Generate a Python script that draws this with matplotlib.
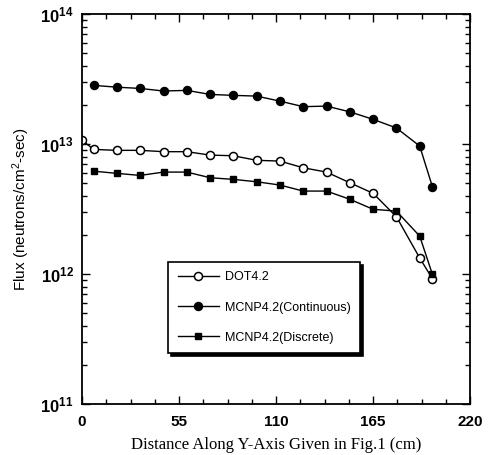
import matplotlib
matplotlib.use("Agg")
import matplotlib.pyplot as plt
from matplotlib.ticker import FixedLocator, FixedFormatter, LogLocator, NullFormatter, MultipleLocator

plt.rcParams['font.family'] = ['Liberation Sans', 'DejaVu Sans']
plt.rcParams['mathtext.default'] = 'regular'

# Data (distance in cm, flux in neutrons/cm^2-sec)
x_dot = [0, 6.6, 19.8, 33, 46.2, 59.4, 72.6, 85.8, 99, 112.2, 125.4, 138.6, 151.8, 165, 178.2, 191.4, 198.6]
y_dot = [1.07e13, 9.1e12, 8.95e12, 8.95e12, 8.74e12, 8.74e12, 8.23e12, 8.13e12, 7.5e12, 7.4e12,
         6.57e12, 6.09e12, 5.04e12, 4.18e12, 2.76e12, 1.33e12, 9.2e11]

x_mc = [6.6, 19.8, 33, 46.2, 59.4, 72.6, 85.8, 99, 112.2, 125.4, 138.6, 151.8, 165, 178.2, 191.4, 198.6]
y_cont = [2.83e13, 2.74e13, 2.68e13, 2.56e13, 2.59e13, 2.41e13, 2.37e13, 2.34e13, 2.14e13,
          1.94e13, 1.96e13, 1.77e13, 1.55e13, 1.33e13, 9.66e12, 4.7e12]
y_disc = [6.19e12, 5.95e12, 5.74e12, 6.09e12, 6.09e12, 5.51e12, 5.35e12, 5.13e12, 4.84e12,
          4.35e12, 4.35e12, 3.76e12, 3.15e12, 3.05e12, 1.96e12, 9.95e11]

labels = ['DOT4.2', 'MCNP4.2(Continuous)', 'MCNP4.2(Discrete)']
x_ticks = [0, 55, 110, 165, 220]
y_ticks = [1e11, 1e12, 1e13, 1e14]
y_ticklabels = ['$10^{11}$', '$10^{12}$', '$10^{13}$', '$10^{14}$']

fig = plt.figure(figsize=(4.97, 4.55), dpi=100)
ax = fig.add_axes([0.165, 0.112, 0.781, 0.857])

ax.plot(x_dot, y_dot, '-o', color='black', mfc='white', mec='black', ms=5.8, mew=1.1, lw=1.0, label=labels[0])
ax.plot(x_mc, y_cont, '-o', color='black', ms=5.8, lw=1.0, label=labels[1])
ax.plot(x_mc, y_disc, '-s', color='black', ms=4.4, lw=1.0, label=labels[2])

ax.set_yscale('log')
ax.set_xlim(0, 220)
ax.set_ylim(1e11, 1e14)

ax.xaxis.set_major_locator(FixedLocator(x_ticks))
ax.xaxis.set_minor_locator(MultipleLocator(13.75))
ax.yaxis.set_major_locator(FixedLocator(y_ticks))
ax.yaxis.set_major_formatter(FixedFormatter(y_ticklabels))
ax.yaxis.set_minor_locator(LogLocator(base=10, subs=range(2, 10)))
ax.yaxis.set_minor_formatter(NullFormatter())

ax.tick_params(which='both', direction='in', top=True, right=True, width=1.0)
ax.tick_params(which='major', length=6)
ax.tick_params(which='minor', length=3.5)
ax.tick_params(axis='x', labelsize=11, pad=8)
ax.tick_params(axis='y', labelsize=12, pad=6)
for lab in ax.get_xticklabels() + ax.get_yticklabels():
    lab.set_fontweight('bold')
for s in ax.spines.values():
    s.set_linewidth(1.3)

ax.set_xlabel('Distance Along Y-Axis Given in Fig.1 (cm)', family=['Liberation Serif', 'DejaVu Serif'],
              fontsize=12, labelpad=6)
ax.set_ylabel('Flux (neutrons/cm$^2$-sec)', fontsize=11, labelpad=6)

leg = ax.legend(loc='upper left', bbox_to_anchor=(0.222, 0.364),
                frameon=True, fancybox=False, shadow={'color': 'black', 'alpha': 1.0, 'ox': 2, 'oy': -2},
                edgecolor='black', fontsize=9, handlelength=3.3, handletextpad=0.5, borderaxespad=0,
                labelspacing=1.45, borderpad=0.75)
leg.get_frame().set_linewidth(1.2)

fig.savefig('out.png', dpi=100)
